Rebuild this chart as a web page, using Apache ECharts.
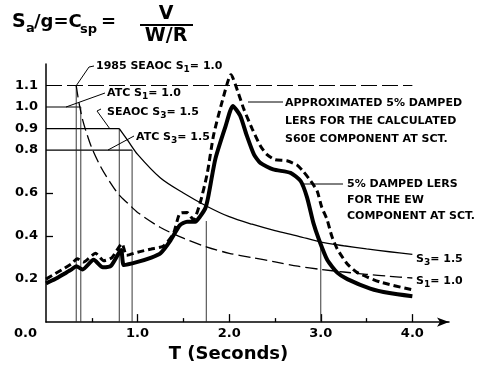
<!DOCTYPE html>
<html><head><meta charset="utf-8">
<script src="https://cdn.jsdelivr.net/npm/echarts@6/dist/echarts.min.js"></script>
<style>html,body{margin:0;padding:0;background:#fff}#c{width:487px;height:368px}</style>
</head><body><div id="c"></div>
<script>
// ---- data ----
const xTickLabels = [0, 1, 2, 3, 4];
const xMajorTicks = [1, 2, 3, 4];
const xMinorTicks = [0.5, 1.5, 2.5, 3.5];
const yTickLabels = [0.2, 0.4, 0.6, 0.8, 0.9, 1.0, 1.1];
const yTicks = [0.4, 0.6];

// 5% damped LERS, EW component at SCT (thick solid)
const ewT = [0, 0.10, 0.20, 0.28, 0.33, 0.40, 0.52, 0.62, 0.71, 0.82, 0.85, 1.00, 1.15, 1.25, 1.36, 1.46, 1.54, 1.63, 1.68, 1.74, 1.77, 1.85, 1.96, 2.04, 2.12, 2.19, 2.27, 2.34, 2.48, 2.67, 2.78, 2.85, 2.92, 2.98, 3.07, 3.18, 3.29, 3.54, 3.75, 4.00];
const ewV = [0.18, 0.20, 0.225, 0.245, 0.26, 0.245, 0.29, 0.255, 0.262, 0.335, 0.265, 0.28, 0.30, 0.32, 0.38, 0.45, 0.467, 0.467, 0.49, 0.53, 0.58, 0.76, 0.91, 1.005, 0.96, 0.87, 0.78, 0.74, 0.71, 0.694, 0.656, 0.58, 0.46, 0.384, 0.29, 0.23, 0.20, 0.156, 0.135, 0.12];

// approximated 5% damped LERS, S60E component (thick dashed)
const s60eT = [0, 0.10, 0.20, 0.29, 0.34, 0.41, 0.54, 0.63, 0.72, 0.83, 0.88, 1.00, 1.15, 1.28, 1.39, 1.46, 1.54, 1.61, 1.68, 1.76, 1.83, 1.92, 2.02, 2.10, 2.16, 2.25, 2.34, 2.41, 2.50, 2.63, 2.74, 2.81, 2.89, 2.96, 3.01, 3.07, 3.12, 3.18, 3.29, 3.40, 3.65, 4.00];
const s60eV = [0.20, 0.225, 0.25, 0.275, 0.295, 0.28, 0.32, 0.285, 0.30, 0.365, 0.31, 0.325, 0.34, 0.353, 0.41, 0.505, 0.51, 0.475, 0.55, 0.69, 0.87, 1.02, 1.15, 1.065, 0.99, 0.90, 0.82, 0.78, 0.755, 0.75, 0.73, 0.70, 0.656, 0.61, 0.535, 0.475, 0.40, 0.34, 0.27, 0.23, 0.186, 0.15];

// design spectrum S3 = 1.5 (thin solid)
const s3T = [0.80, 0.90, 1.00, 1.25, 1.50, 1.75, 2.00, 2.25, 2.50, 2.75, 3.00, 3.25, 3.50, 3.75, 4.00];
const s3V = [0.90, 0.84, 0.78, 0.67, 0.60, 0.54, 0.49, 0.455, 0.425, 0.40, 0.372, 0.355, 0.34, 0.327, 0.315];

// design spectrum S1 = 1.0 (thin long dashed)
const s1T = [0.33, 0.36, 0.40, 0.45, 0.50, 0.60, 0.70, 0.80, 0.90, 1.00, 1.25, 1.50, 1.75, 2.00, 2.25, 2.50, 2.75, 3.00, 3.25, 3.50, 3.75, 4.00];
const s1V = [1.10, 1.02, 0.94, 0.87, 0.81, 0.72, 0.65, 0.59, 0.55, 0.51, 0.44, 0.39, 0.35, 0.32, 0.30, 0.28, 0.26, 0.245, 0.233, 0.222, 0.213, 0.205];

// plateaus and vertical drop lines
const refLevel = 1.1, refEnd = 4.0;
const plateauLevel = [1.0, 0.9, 0.8];
const plateauEnd = [0.38, 0.80, 0.94];
const dropT = [0.33, 0.38, 0.80, 0.94, 1.75, 3.0];
const dropTop = [1.1, 1.0, 0.9, 0.8, 0.47, 0.37];

// ---- build ----
const FF = '"DejaVu Sans", "Liberation Sans", sans-serif';
const zip = (a, b) => a.map((t, i) => [t, b[i]]);
const chart = echarts.init(document.getElementById('c'), null, {renderer: 'canvas'});

const series = [];
series.push({type: 'line', data: [[0, refLevel], [refEnd, refLevel]], symbol: 'none', silent: true,
  lineStyle: {color: '#000', width: 1.2, type: [16, 5]}, z: 2});
plateauLevel.forEach((lv, i) => series.push({type: 'line', data: [[0, lv], [plateauEnd[i], lv]], symbol: 'none', silent: true,
  lineStyle: {color: '#000', width: 1.2}, z: 2}));
dropT.forEach((t, i) => series.push({type: 'line', data: [[t, 0], [t, dropTop[i]]], symbol: 'none', silent: true,
  lineStyle: {color: '#222', width: 0.9}, z: 2}));
series.push({type: 'line', data: zip(s3T, s3V), symbol: 'none', smooth: 0.3, lineStyle: {color: '#000', width: 1.3}, z: 3});
series.push({type: 'line', data: zip(s1T, s1V), symbol: 'none', smooth: 0.3, lineStyle: {color: '#000', width: 1.3, type: [12, 5]}, z: 3});
series.push({type: 'line', data: zip(s60eT, s60eV), symbol: 'none', smooth: 0.2, lineStyle: {color: '#000', width: 3, type: [7, 4]}, z: 4});
series.push({type: 'line', data: zip(ewT, ewV), symbol: 'none', smooth: 0.2, lineStyle: {color: '#000', width: 4, join: 'round'}, z: 5});

const lbl = {color: '#000', fontFamily: FF, fontWeight: 'bold', fontSize: 13};

const txt = (x, y, text, size) => ({type: 'text', x: x, y: y, z: 10, style: {
  text: text, fill: '#000', fontFamily: FF, fontWeight: 'bold', fontSize: size, verticalAlign: 'middle',
  rich: {sub: {fontFamily: FF, fontWeight: 'bold', fontSize: Math.round(size * 0.8), fill: '#000', padding: [7, 0, 0, 0]},
         n: {fontFamily: FF, fontWeight: 'bold', fontSize: size, fill: '#000'}}
}});
const ctxt = (x, y, text, size) => ({type: 'text', x: x, y: y, z: 10, style: {text: text, fill: '#000', fontFamily: FF,
  fontWeight: 'bold', fontSize: size, align: 'center', verticalAlign: 'middle'}});
const pl = (pts, w) => ({type: 'polyline', z: 10, shape: {points: pts}, style: {stroke: '#000', lineWidth: w || 1, fill: null}});

const graphic = [
  // title
  txt(12, 22, 'S', 19), txt(26, 29, 'a', 13), txt(34, 22, '/g=C', 18), txt(80, 30, 'sp', 13),
  txt(101, 22, '=', 18),
  ctxt(166, 14, 'V', 19),
  pl([[140, 25], [193, 25]], 2),
  ctxt(166, 36, 'W/R', 19),
  // annotations
  txt(96, 66, '{n|1985 SEAOC S}{sub|1}{n|= 1.0}', 11),
  pl([[94, 66], [89, 67], [76, 86]]),
  txt(107, 93, '{n|ATC S}{sub|1}{n|= 1.0}', 11),
  pl([[105, 93], [66, 107]]),
  txt(107, 112, '{n|SEAOC S}{sub|3}{n|= 1.5}', 11),
  pl([[101, 109], [97, 111], [110, 129]]),
  txt(136, 137, '{n|ATC S}{sub|3}{n|= 1.5}', 11),
  pl([[134, 136], [108, 150]]),
  txt(285, 103, 'APPROXIMATED 5% DAMPED', 11),
  txt(285, 121, 'LERS FOR THE CALCULATED', 11),
  txt(285, 139, 'S60E COMPONENT AT SCT.', 11),
  pl([[283, 102], [248, 102]]),
  txt(347, 184, '5% DAMPED LERS', 11),
  txt(347, 200, 'FOR THE EW', 11),
  txt(347, 216, 'COMPONENT AT SCT.', 11),
  pl([[343, 184], [303, 184]]),
  txt(416, 259, '{n|S}{sub|3}{n|= 1.5}', 11),
  txt(416, 281, '{n|S}{sub|1}{n|= 1.0}', 11)
];

chart.setOption({
  animation: false,
  backgroundColor: '#fff',
  grid: {left: 46, right: 38, top: 64, bottom: 40, containLabel: false},
  xAxis: [{
    type: 'value', min: 0, max: 4.4,
    name: 'T (Seconds)', nameLocation: 'middle', nameGap: 22,
    nameTextStyle: {color: '#000', fontFamily: FF, fontWeight: 'bold', fontSize: 18, padding: [0, 38, 0, 0]},
    axisLine: {show: true, lineStyle: {color: '#000', width: 1.5}, symbol: ['none', 'arrow'], symbolSize: [7, 12]},
    axisTick: {show: true, inside: true, length: 8, customValues: xMajorTicks, lineStyle: {color: '#000', width: 1.3}},
    axisLabel: {show: true, margin: 5, customValues: xTickLabels,
      formatter: v => v === 0 ? '{o|0.0}' : '{n|' + v.toFixed(1) + '}',
      rich: {o: Object.assign({padding: [0, 41, 0, 0]}, lbl), n: lbl}},
    splitLine: {show: false}
  }, {
    type: 'value', min: 0, max: 4.4, position: 'bottom', gridIndex: 0,
    axisLine: {show: false},
    axisTick: {show: true, inside: true, length: 4, customValues: xMinorTicks, lineStyle: {color: '#000', width: 1.3}},
    axisLabel: {show: false}, splitLine: {show: false}
  }],
  yAxis: {
    type: 'value', min: 0, max: 1.2,
    axisLine: {show: true, lineStyle: {color: '#000', width: 1.5}},
    axisTick: {show: true, inside: true, length: 7, customValues: yTicks, lineStyle: {color: '#000', width: 1.3}},
    axisLabel: Object.assign({show: true, margin: 8, customValues: yTickLabels, formatter: v => v.toFixed(1)}, lbl),
    splitLine: {show: false}
  },
  series: series,
  graphic: graphic
});
</script></body></html>
